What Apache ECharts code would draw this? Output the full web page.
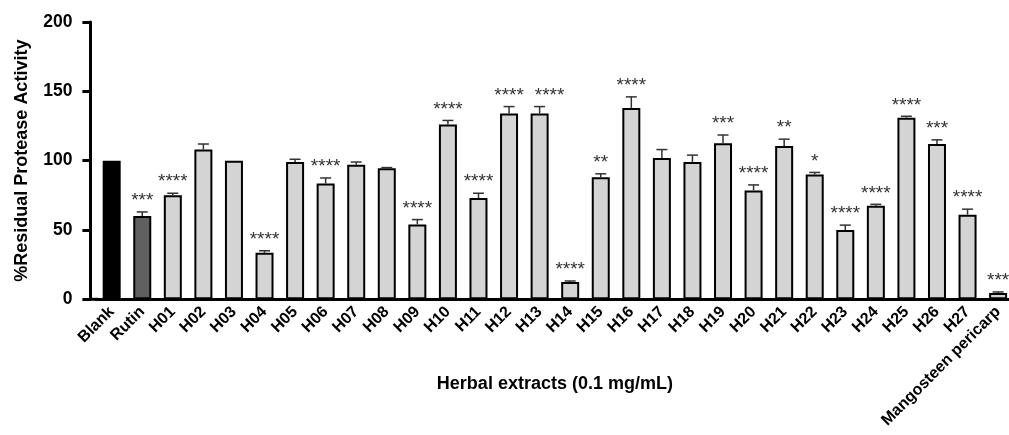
<!DOCTYPE html>
<html>
<head>
<meta charset="utf-8">
<script src="https://cdn.jsdelivr.net/npm/echarts@6/dist/echarts.min.js"></script>
<style>
html,body{margin:0;padding:0;background:#fff;}
#chart{width:1009px;height:435px;}
</style>
</head>
<body>
<div id="chart"></div>
<script>
var categories = ['Blank','Rutin','H01','H02','H03','H04','H05','H06','H07','H08','H09','H10','H11','H12','H13','H14','H15','H16','H17','H18','H19','H20','H21','H22','H23','H24','H25','H26','H27','Mangosteen pericarp'];
var means = [100, 60, 75, 108, 100, 33.5, 99, 83.5, 97, 94.5, 54, 126, 73, 134, 134, 12.5, 88, 138, 102, 99, 112.5, 78.5, 110.5, 90, 50, 67.5, 131, 112, 61, 4.5];
var errors = [0, 3, 1.5, 4, 0, 1.5, 2, 4, 2, 0.5, 3.5, 3, 3.5, 5, 5, 0.7, 2.5, 8, 6, 5, 6, 4, 5, 1.5, 3.5, 1, 1, 3, 4, 0.8];
var stars = ['', '***', '****', '', '', '****', '', '****', '', '', '****', '****', '****', '****', '****', '****', '**', '****', '', '', '***', '****', '**', '*', '****', '****', '****', '***', '****', '***'];

var font = 'Liberation Sans, Arial, sans-serif';
var chart = echarts.init(document.getElementById('chart'));

// 柱子颜色
function barColor(idx) {
  if (idx === 0) return '#000000';
  if (idx === 1) return '#606060';
  return '#d4d4d4';
}

var errData = [];
for (var i = 0; i < means.length; i++) {
  errData.push([i, means[i], errors[i]]);
}

var option = {
  animation: false,
  grid: {
    left: 96.4,
    top: 22,
    width: 917,
    bottom: 135.7,
    containLabel: false,
    outerBoundsMode: 'none'
  },
  xAxis: {
    type: 'category',
    data: categories,
    name: 'Herbal extracts (0.1 mg/mL)',
    nameLocation: 'middle',
    nameGap: 76,
    nameMoveOverlap: false,
    nameTextStyle: {fontFamily: font, fontWeight: 'bold', fontSize: 18, color: '#000'},
    axisLine: {lineStyle: {color: '#000', width: 3}},
    axisTick: {alignWithLabel: true, length: 8, lineStyle: {color: '#000', width: 3}},
    axisLabel: {
      interval: 0,
      rotate: 45,
      margin: 10,
      fontFamily: font,
      fontWeight: 'bold',
      fontSize: 16,
      color: '#000'
    }
  },
  yAxis: {
    type: 'value',
    min: 0,
    max: 200,
    interval: 50,
    offset: 6,
    name: '%Residual Protease Activity',
    nameLocation: 'middle',
    nameGap: 59,
    nameMoveOverlap: false,
    nameTextStyle: {fontFamily: font, fontWeight: 'bold', fontSize: 18, color: '#000'},
    axisLine: {show: true, lineStyle: {color: '#000', width: 3}},
    axisTick: {show: true, length: 8, lineStyle: {color: '#000', width: 3}},
    axisLabel: {margin: 18, fontFamily: font, fontWeight: 'bold', fontSize: 17.5, color: '#000'},
    splitLine: {show: false}
  },
  graphic: [{
    type: 'line',
    shape: {x1: 89, y1: 299.3, x2: 98, y2: 299.3},
    style: {stroke: '#000', lineWidth: 3},
    z: 10
  }],
  series: [
    {
      type: 'bar',
      data: means,
      barWidth: 18,
      itemStyle: {
        color: function (p) { return barColor(p.dataIndex); },
        borderColor: '#000',
        borderWidth: 2
      },
      z: 2
    },
    {
      type: 'custom',
      data: errData,
      z: 3,
      renderItem: function (params, api) {
        var n = params.dataIndex;
        var idx = api.value(0);
        var v = api.value(1);
        var e = api.value(2);
        var top = api.coord([idx, v]);
        var cap = api.coord([idx, v + e]);
        var children = [];
        if (e > 0) {
          children.push({
            type: 'line',
            shape: {x1: top[0], y1: top[1], x2: cap[0], y2: cap[1]},
            style: {stroke: '#333', lineWidth: 1.5}
          });
          children.push({
            type: 'line',
            shape: {x1: cap[0] - 5.5, y1: cap[1], x2: cap[0] + 5.5, y2: cap[1]},
            style: {stroke: '#333', lineWidth: 1.5}
          });
        }
        var s = stars[n];
        if (s) {
          // 与左侧星号同高时右移，避免重叠
          var dx = 0;
          if (n > 0 && stars[n - 1]) {
            var prev = api.coord([n - 1, means[n - 1] + errors[n - 1]]);
            if (Math.abs(prev[1] - cap[1]) < 8) dx = 10;
          }
          children.push({
            type: 'text',
            style: {
              text: s,
              x: cap[0] + dx,
              y: cap[1] - 11,
              align: 'center',
              verticalAlign: 'middle',
              fontFamily: font,
              fontSize: 19,
              fill: '#333'
            }
          });
        }
        return {type: 'group', children: children};
      }
    }
  ]
};

chart.setOption(option);
window.onresize = function () { chart.resize(); };
</script>
</body>
</html>
